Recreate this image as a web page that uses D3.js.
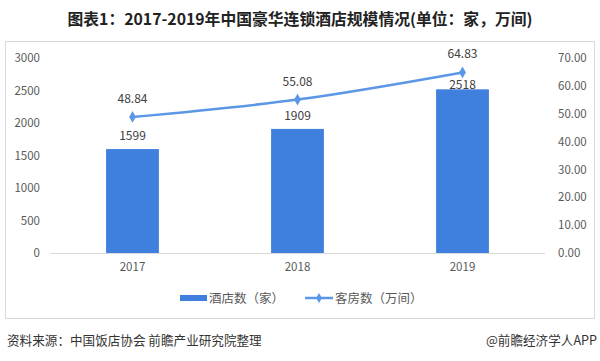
<!DOCTYPE html>
<html><head><meta charset="utf-8">
<script src="https://cdn.jsdelivr.net/npm/d3@7"></script>
<style>body{margin:0;background:#fff}svg{display:block}text{font-family:"Noto Sans CJK SC","Noto Sans",sans-serif}</style>
</head><body>
<script>
const years = ["2017","2018","2019"];
const hotels = [1599,1909,2518];
const rooms = [48.84,55.08,64.83];
const leftTicks = [0,500,1000,1500,2000,2500,3000];
const rightTicks = [0,10,20,30,40,50,60,70];
const title = "图表1：2017-2019年中国豪华连锁酒店规模情况(单位：家，万间)";
const seriesNames = ["酒店数（家）","客房数（万间）"];
const source = "资料来源：中国饭店协会 前瞻产业研究院整理";
const brand = "@前瞻经济学人APP";

const W=600,H=361;
const svg=d3.select("body").append("svg").attr("width",W).attr("height",H);
const barColor="#3f7fdd", lineColor="#5b97e6", txt="#595959";

svg.append("text").attr("x",300).attr("y",25).attr("text-anchor","middle")
  .attr("font-size",15.8).attr("font-weight","bold").attr("fill","#222").text(title);

svg.append("rect").attr("x",5.5).attr("y",41.5).attr("width",589).attr("height",277)
  .attr("fill","none").attr("stroke","#d9d9d9");

const x=d3.scaleBand().domain(years).range([50,545]).paddingInner(0.68).paddingOuter(0.34);
const yL=d3.scaleLinear().domain([0,3000]).range([253,58]);
const yR=d3.scaleLinear().domain([0,70]).range([253,58]);

const gl=svg.append("g").attr("transform","translate(40,0)")
  .call(d3.axisLeft(yL).tickValues(leftTicks).tickSize(0).tickPadding(0).tickFormat(d3.format("d")));
const gr=svg.append("g").attr("transform","translate(558,0)")
  .call(d3.axisRight(yR).tickValues(rightTicks).tickSize(0).tickPadding(0).tickFormat(d3.format(".2f")));
const gx=svg.append("g").attr("transform","translate(0,253)")
  .call(d3.axisBottom(x).tickSize(0).tickPadding(10));
[gl,gr,gx].forEach(g=>{g.select(".domain").remove();
  g.selectAll("text").attr("fill",txt).attr("font-size",11.5).attr("font-family",'"Noto Sans CJK SC",sans-serif');});
svg.append("line").attr("x1",50).attr("x2",545).attr("y1",253.5).attr("y2",253.5).attr("stroke","#d9d9d9");

const cx=(i)=>x(years[i])+x.bandwidth()/2;

svg.selectAll("rect.bar").data(hotels).join("rect").attr("class","bar")
  .attr("x",(d,i)=>x(years[i])).attr("width",x.bandwidth())
  .attr("y",d=>yL(d)).attr("height",d=>yL(0)-yL(d)).attr("fill",barColor);
svg.selectAll("text.bl").data(hotels).join("text").attr("class","bl")
  .attr("x",(d,i)=>cx(i)).attr("y",(d,i)=>Math.max(yL(d)-9, yR(rooms[i])+17))
  .attr("text-anchor","middle").attr("font-size",12).attr("fill","#404040").text(d=>d);

const line=d3.line().x((d,i)=>cx(i)).y(d=>yR(d)).curve(d3.curveMonotoneX);
svg.append("path").datum(rooms).attr("d",line).attr("fill","none").attr("stroke",lineColor).attr("stroke-width",2.5);
svg.selectAll("path.mk").data(rooms).join("path").attr("class","mk")
  .attr("d",d3.symbol(d3.symbolDiamond,40)).attr("transform",(d,i)=>`translate(${cx(i)},${yR(d)})`).attr("fill",lineColor);
svg.selectAll("text.ll").data(rooms).join("text").attr("class","ll")
  .attr("x",(d,i)=>cx(i)).attr("y",d=>yR(d)-14)
  .attr("text-anchor","middle").attr("font-size",12).attr("fill","#404040").text(d=>d.toFixed(2));

svg.append("rect").attr("x",180).attr("y",295).attr("width",27).attr("height",6).attr("fill",barColor);
svg.append("text").attr("x",209).attr("y",302.5).attr("font-size",12.5).attr("fill",txt).text(seriesNames[0]);
svg.append("line").attr("x1",305).attr("x2",333).attr("y1",298).attr("y2",298).attr("stroke",lineColor).attr("stroke-width",2.5);
svg.append("path").attr("d",d3.symbol(d3.symbolDiamond,30)).attr("transform","translate(319,298)").attr("fill",lineColor);
svg.append("text").attr("x",335).attr("y",302.5).attr("font-size",12.5).attr("fill",txt).text(seriesNames[1]);

svg.append("text").attr("x",7).attr("y",345).attr("font-size",12.6).attr("fill","#333").text(source);
svg.append("text").attr("x",597).attr("y",345).attr("text-anchor","end").attr("font-size",12.6).attr("fill","#333").text(brand);
</script>
</body></html>
